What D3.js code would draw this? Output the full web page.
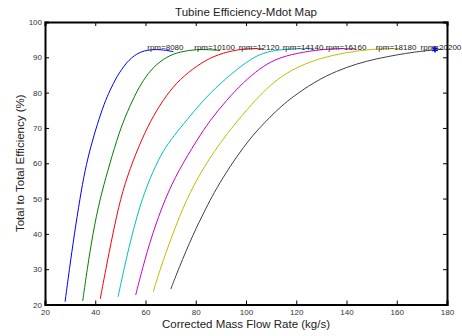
<!DOCTYPE html>
<html>
<head>
<meta charset="utf-8">
<script src="https://cdn.jsdelivr.net/npm/d3@7"></script>
<style>
  body { margin: 0; background: #fff; }
  text { font-family: "Liberation Sans", Arial, sans-serif; }
</style>
</head>
<body>
<div id="chart"></div>
<script>
// speed lines: [mass flow kg/s, efficiency %]
var rpm = ["8080", "10100", "12120", "14140", "16160", "18180", "20200"];
var colors = ["#0000ff", "#008000", "#ff0000", "#00bfbf", "#cc00cc", "#bfbf00", "#404040"];

var line8080 = [[28.0,20.8],[29.7,30],[31.7,40],[33.9,50],[35.9,58],[38.3,65],[40.8,71],[43.6,77],[45.9,80.7],[48.5,84.5],[52.5,88.7],[56.5,91.1],[60.5,92.1],[65.8,92.3],[71.1,91.6]];
var line10100 = [[35.0,21.0],[36.8,30],[39.0,40],[41.9,50],[45.0,57.9],[48.5,66.5],[51.8,73.1],[55.8,79.3],[59.1,83.6],[63.1,87.3],[68.4,90.2],[73.7,91.6],[80.4,92.3],[87.0,92.1],[89.7,91.9]];
var line12120 = [[42.0,21.6],[44.2,30],[47.0,40],[50.0,50],[53.8,58.5],[58.6,67.0],[63.2,73.6],[68.4,79.4],[73.7,83.8],[80.4,87.6],[87.0,90.4],[95.0,92.0],[101.0,92.5],[106.9,92.4]];
var line14140 = [[49.1,22.2],[51.4,30],[54.7,40],[58.6,50],[63.0,57.8],[67.0,63.6],[71.3,67.8],[76.4,72.2],[83.0,77.9],[89.7,82.6],[97.6,87.3],[103.0,90.0],[108.2,91.6],[116.0,92.4],[126.8,92.5]];
var line16160 = [[56.1,22.7],[58.7,30],[62.7,40],[67.8,50],[73.1,57.9],[80.4,66.5],[85.7,72.2],[92.3,77.9],[98.9,82.9],[105.6,86.9],[111.0,89.2],[117.5,90.8],[128.1,92.1],[136.0,92.5],[143.4,92.4]];
var line18180 = [[63.1,23.6],[65.8,30],[70.8,40],[76.4,50],[82.4,57.9],[87.5,63.5],[92.3,68.2],[98.9,74.0],[105.6,79.3],[110.9,82.9],[117.5,86.2],[125.5,88.8],[134.8,90.7],[145.4,92.0],[155.0,92.5],[161.3,92.5]];
var line20200 = [[70.1,24.4],[73.1,30],[79.0,40],[83.7,46.7],[86.0,50],[91.0,56.2],[96.3,61.9],[101.6,67.0],[106.9,71.2],[116.2,77.8],[128.1,83.4],[136.0,86.1],[144.1,88.2],[152.0,89.6],[160.0,90.7],[167.0,91.5],[174.6,92.1],[178.6,92.3]];
var lines = [line8080, line10100, line12120, line14140, line16160, line18180, line20200];

var labelX = [60.7, 79.4, 97.1, 114.6, 131.7, 151.6, 169.5];
var labelY = 93.0;
var designPoint = [175.2, 92.3];

var xTicks = [20, 40, 60, 80, 100, 120, 140, 160, 180];
var yTicks = [20, 30, 40, 50, 60, 70, 80, 90, 100];

var W = 462, H = 336;
var margin = {top: 22, right: 15, bottom: 31.5, left: 45};

var svg = d3.select("#chart").append("svg").attr("width", W).attr("height", H);

var x = d3.scaleLinear().domain([20, 180]).range([margin.left, W - margin.right]);
var y = d3.scaleLinear().domain([20, 100]).range([H - margin.bottom, margin.top]);

var plot = svg.append("g");

var line = d3.line()
  .x(function(d){ return x(d[0]); })
  .y(function(d){ return y(d[1]); })
  .curve(d3.curveBasis);

plot.selectAll("path.speed")
  .data(lines)
  .enter().append("path")
  .attr("class", "speed")
  .attr("d", line)
  .attr("fill", "none")
  .attr("stroke", function(d, i){ return colors[i]; })
  .attr("stroke-width", 1);

// blue star at the last point
plot.append("path")
  .attr("d", d3.symbol().type(d3.symbolAsterisk).size(28))
  .attr("transform", "translate(" + x(designPoint[0]) + "," + y(designPoint[1]) + ")")
  .attr("fill", "none").attr("stroke", "#0000ff").attr("stroke-width", 1.6);

plot.selectAll("text.rpm")
  .data(rpm)
  .enter().append("text")
  .attr("class", "rpm")
  .attr("x", function(d, i){ return x(labelX[i]); })
  .attr("y", y(labelY))
  .attr("dy", "0.35em")
  .attr("font-size", "8px")
  .attr("fill", "#222")
  .text(function(d){ return "rpm=" + d; });

// axes, matlab style box with inward ticks
var tickLen = 4;
var xAxis = svg.append("g").attr("transform", "translate(0," + y(20) + ")")
  .call(d3.axisBottom(x).tickValues(xTicks).tickSize(-tickLen).tickPadding(5).tickFormat(d3.format("d")));
var xTop = svg.append("g").attr("transform", "translate(0," + y(100) + ")")
  .call(d3.axisTop(x).tickValues(xTicks).tickSize(-tickLen).tickFormat(""));
var yAxis = svg.append("g").attr("transform", "translate(" + x(20) + ",0)")
  .call(d3.axisLeft(y).tickValues(yTicks).tickSize(-tickLen).tickPadding(3).tickFormat(d3.format("d")));
var yRight = svg.append("g").attr("transform", "translate(" + x(180) + ",0)")
  .call(d3.axisRight(y).tickValues(yTicks).tickSize(-tickLen).tickFormat(""));

[xAxis, xTop, yAxis, yRight].forEach(function(a){
  a.select(".domain").attr("stroke", "#000").attr("stroke-width", 2);
  a.selectAll(".tick line").attr("stroke", "#000").attr("stroke-width", 1);
  a.selectAll(".tick text").attr("font-size", "8px").attr("fill", "#333")
    .attr("font-family", "'Liberation Sans', Arial, sans-serif");
});

svg.append("text")
  .attr("x", (x(20) + x(180)) / 2).attr("y", 16)
  .attr("text-anchor", "middle").attr("font-size", "11.5px").attr("fill", "#222")
  .text("Tubine Efficiency-Mdot Map");

svg.append("text")
  .attr("x", (x(20) + x(180)) / 2).attr("y", 328)
  .attr("text-anchor", "middle").attr("font-size", "11.5px").attr("fill", "#222")
  .text("Corrected Mass Flow Rate (kg/s)");

svg.append("text")
  .attr("transform", "translate(24," + (y(60)) + ") rotate(-90)")
  .attr("text-anchor", "middle").attr("font-size", "11.5px").attr("fill", "#222")
  .text("Total to Total Efficiency (%)");
</script>
</body>
</html>
